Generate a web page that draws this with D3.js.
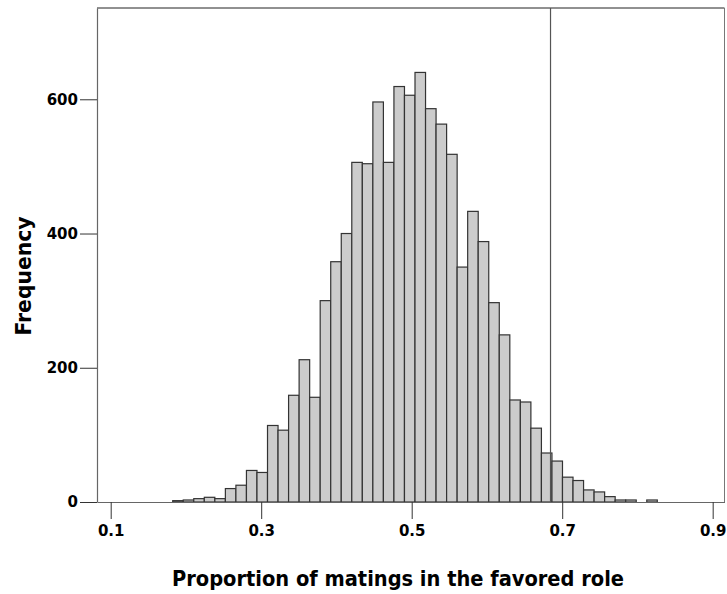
<!DOCTYPE html>
<html>
<head>
<meta charset="utf-8">
<script src="https://cdn.jsdelivr.net/npm/d3@7"></script>
<style>
  body { margin: 0; background: #fff; }
  #chart { width: 727px; height: 594px; }
  text { font-family: "DejaVu Sans", Verdana, sans-serif; font-weight: bold; fill: #000; }
</style>
</head>
<body>
<div id="chart"></div>
<script>
// bin lower edges (proportion), each bin is binWidth wide
const binLower = [
  0.1824, 0.1964, 0.2104, 0.2244, 0.2384, 0.2524, 0.2664, 0.2804, 0.2944, 0.3084,
  0.3224, 0.3364, 0.3504, 0.3644, 0.3784, 0.3924, 0.4064, 0.4204, 0.4344, 0.4484,
  0.4624, 0.4764, 0.4904, 0.5044, 0.5184, 0.5324, 0.5464, 0.5604, 0.5744, 0.5884,
  0.6024, 0.6164, 0.6304, 0.6444, 0.6584, 0.6724, 0.6864, 0.7004, 0.7144, 0.7284,
  0.7424, 0.7564, 0.7704, 0.7844, 0.7984, 0.8124
]
const binWidth = 0.014
const counts = [
  2, 3, 5, 7, 5, 20, 25, 47, 44, 114,
  107, 159, 212, 156, 300, 358, 400, 506, 504, 596,
  506, 619, 606, 640, 586, 563, 518, 350, 433, 388,
  297, 249, 152, 149, 110, 73, 61, 37, 32, 18,
  15, 8, 3, 3, 0, 3
]
const xTicks = [0.1, 0.3, 0.5, 0.7, 0.9]
const yTicks = [0, 200, 400, 600]
const observed = 0.6845

async function drawChart() {

  // 1. Access data
  const dataset = binLower.map((lo, i) => ({ lo: lo, hi: lo + binWidth, n: counts[i] }))
  const loAccessor = d => d.lo
  const hiAccessor = d => d.hi
  const yAccessor = d => d.n

  // 2. Dimensions
  let dimensions = {
    width: 727,
    height: 594,
    margin: { top: 8, right: 2.5, bottom: 92, left: 97 },
  }
  dimensions.boundedWidth = dimensions.width - dimensions.margin.left - dimensions.margin.right
  dimensions.boundedHeight = dimensions.height - dimensions.margin.top - dimensions.margin.bottom

  // 3. Canvas
  const wrapper = d3.select("#chart")
    .append("svg")
      .attr("width", dimensions.width)
      .attr("height", dimensions.height)

  const bounds = wrapper.append("g")
      .attr("transform", `translate(${dimensions.margin.left}, ${dimensions.margin.top})`)

  // 4. Scales
  const xScale = d3.scaleLinear()
    .domain([0.0818, 0.9157])
    .range([0, dimensions.boundedWidth])

  const yScale = d3.scaleLinear()
    .domain([0, 736])
    .range([dimensions.boundedHeight, 0])

  // 5. Bars
  bounds.selectAll(".bar")
    .data(dataset)
    .enter()
    .append("rect")
      .attr("class", "bar")
      .attr("x", d => xScale(loAccessor(d)))
      .attr("y", d => yScale(yAccessor(d)))
      .attr("width", d => xScale(hiAccessor(d)) - xScale(loAccessor(d)))
      .attr("height", d => dimensions.boundedHeight - yScale(yAccessor(d)))
      .attr("fill", "#cccccc")
      .attr("stroke", "#333")
      .attr("stroke-width", 1.2)

  // frame: top and right
  bounds.append("line")
      .attr("x1", 0).attr("x2", dimensions.boundedWidth)
      .attr("y1", 0).attr("y2", 0)
      .attr("stroke", "#222")
  bounds.append("line")
      .attr("x1", dimensions.boundedWidth).attr("x2", dimensions.boundedWidth)
      .attr("y1", 0).attr("y2", dimensions.boundedHeight)
      .attr("stroke", "#777")

  // reference line
  bounds.append("line")
      .attr("x1", xScale(observed)).attr("x2", xScale(observed))
      .attr("y1", 0).attr("y2", dimensions.boundedHeight)
      .attr("stroke", "#555")
      .attr("stroke-width", 1.2)

  // 6. Axes
  const xAxisGenerator = d3.axisBottom()
    .scale(xScale)
    .tickValues(xTicks)
    .tickFormat(d3.format(".1f"))
    .tickSizeInner(17)
    .tickSizeOuter(0)
    .tickPadding(6)

  const xAxis = bounds.append("g")
    .call(xAxisGenerator)
    .attr("transform", `translate(0, ${dimensions.boundedHeight})`)

  const yAxisGenerator = d3.axisLeft()
    .scale(yScale)
    .tickValues(yTicks)
    .tickSizeInner(17)
    .tickSizeOuter(0)
    .tickPadding(2)

  const yAxis = bounds.append("g")
    .call(yAxisGenerator)

  ;[xAxis, yAxis].forEach(ax => {
    ax.select(".domain").attr("stroke", "#666").attr("stroke-width", 1.2)
    ax.selectAll(".tick line").attr("stroke", "#333")
    ax.selectAll(".tick text")
      .style("font-family", "'DejaVu Sans', Verdana, sans-serif")
      .style("font-weight", "bold")
      .style("font-size", "15px")
      .attr("fill", "#000")
  })

  // axis titles
  wrapper.append("text")
      .attr("x", 398)
      .attr("y", 586)
      .attr("text-anchor", "middle")
      .attr("textLength", 452)
      .attr("lengthAdjust", "spacingAndGlyphs")
      .style("font-size", "21px")
      .text("Proportion of matings in the favored role")

  wrapper.append("text")
      .attr("transform", "translate(31, 276) rotate(-90)")
      .attr("text-anchor", "middle")
      .attr("textLength", 119)
      .attr("lengthAdjust", "spacingAndGlyphs")
      .style("font-size", "21px")
      .text("Frequency")
}
drawChart()
</script>
</body>
</html>
